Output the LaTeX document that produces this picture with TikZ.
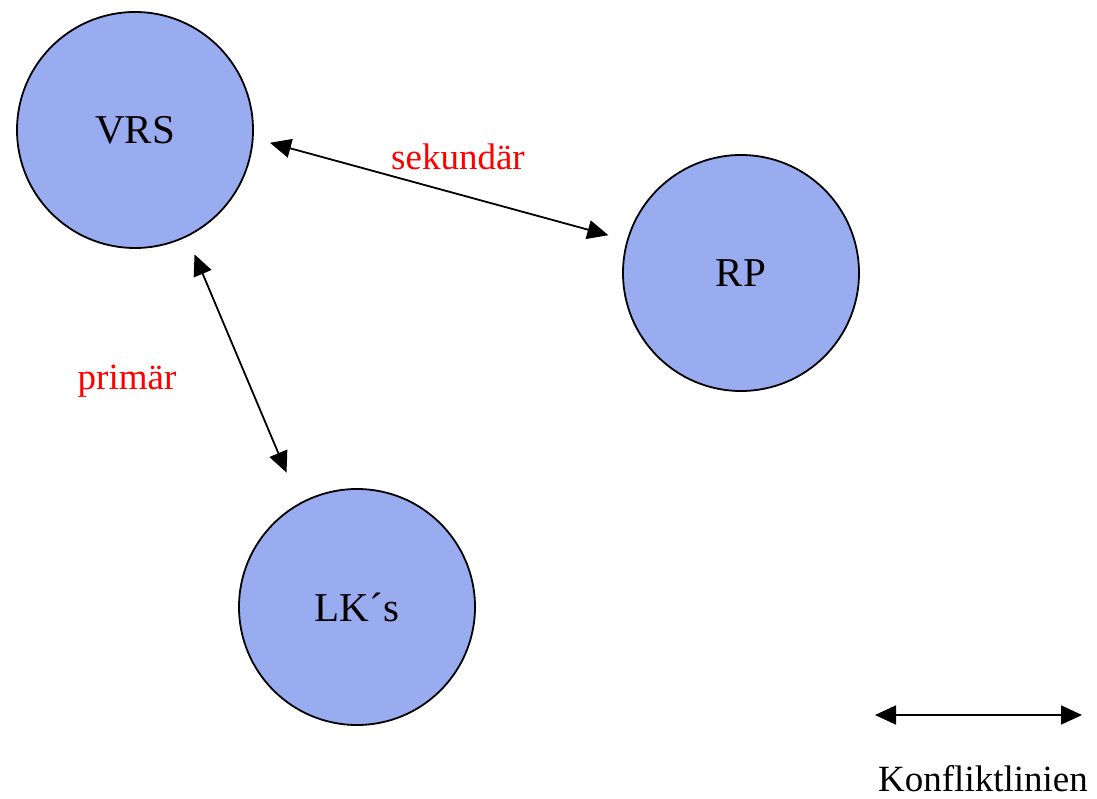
\documentclass[tikz,border=0pt]{standalone}
\usepackage{fontspec}
\setmainfont{Liberation Serif}
\usetikzlibrary{arrows.meta}
\definecolor{circfill}{RGB}{153,172,240}
\definecolor{labred}{RGB}{255,0,0}
\tikzset{
  party/.style={circle, draw=black, line width=1.8pt, fill=circfill, minimum size=236pt, inner sep=0pt, font=\fontsize{41}{43}\selectfont},
  conflict/.style={line width=1.8pt, {Triangle[length=21pt,width=19pt]}-{Triangle[length=21pt,width=19pt]}},
  redlab/.style={text=labred, font=\fontsize{37}{39}\selectfont, inner sep=0pt},
  leglab/.style={font=\fontsize{37}{39}\selectfont, inner sep=0pt}
}
\begin{document}
\begin{tikzpicture}[x=1pt,y=-1pt]
\useasboundingbox (0,0) rectangle (1097,799);
\node[party] (vrs) at (135,130) {VRS};
\node[party] (rp) at (741,273) {RP};
\node[party] (lk) at (357,607) {LK´s};
\draw[conflict, shorten <=17pt, shorten >=19pt] (vrs.-4.2) -- (rp.164.3);
\draw[conflict, shorten <=19pt, shorten >=33pt] (vrs.-64) -- (lk.119.6);
\node[redlab] (sek) at (458,157) {sekundär};
\node[redlab] (prim) at (127,381) {primär};
\coordinate (lega) at (875,715);
\coordinate (legb) at (1082,715);
\draw[conflict] (lega) -- (legb);
\node[leglab] (leg) at (983,779) {Konfliktlinien};
\end{tikzpicture}
\end{document}
